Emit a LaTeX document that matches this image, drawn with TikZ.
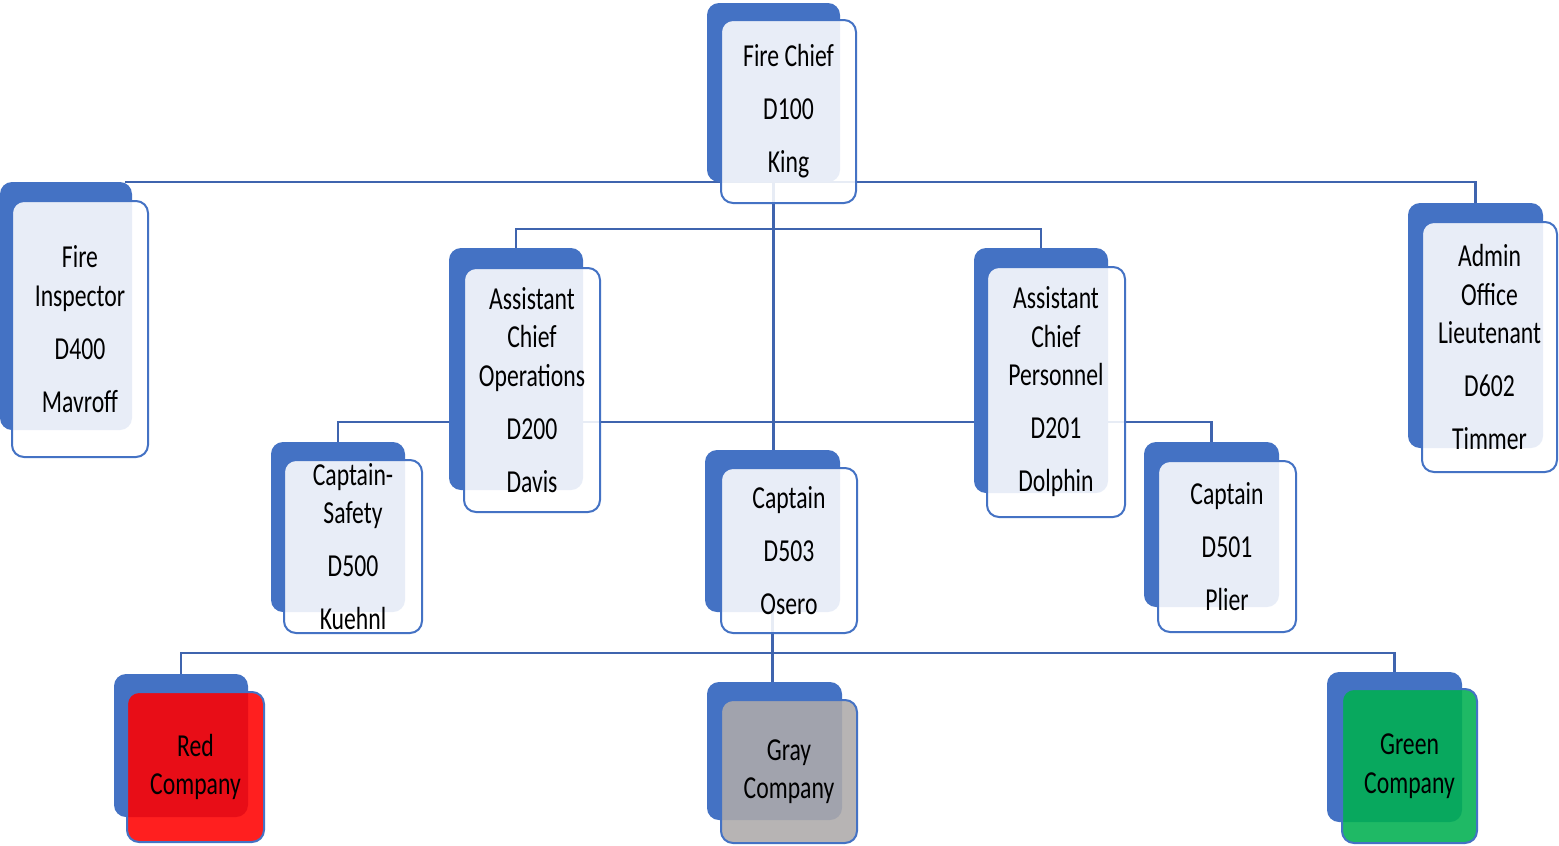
\documentclass[tikz,border=0pt]{standalone}
\usepackage{fontspec}
\newfontfamily\cfont[FakeStretch=0.74]{Carlito}
\usetikzlibrary{backgrounds}
\definecolor{accblue}{HTML}{4472C4}
\definecolor{connblue}{HTML}{3F64AE}
\definecolor{redfill}{HTML}{FF0000}
\definecolor{greenfill}{HTML}{00B050}
\definecolor{grayfill}{HTML}{AEAAAA}
\tikzset{
  backbox/.style={rectangle, rounded corners=12pt, fill=accblue, draw=none, inner sep=0pt, outer sep=0pt},
  frontbox/.style={rectangle, rounded corners=12pt, draw=accblue, line width=2pt, fill opacity=0.88, text opacity=1,
     inner sep=0pt, outer sep=0pt, align=center, text=black,
     font=\cfont\fontsize{32}{38.5}\selectfont},
  conn/.style={draw=connblue, line width=2.5pt},
}
\newcommand{\backbox}[5]{%
  \pgfmathsetmacro\bw{#4-#2}\pgfmathsetmacro\bh{#5-#3}%
  \node[backbox, minimum width=\bw pt, minimum height=\bh pt] (#1) at ({(#2+#4)/2},{(#3+#5)/2}) {};}
\newcommand{\frontbox}[7]{%
  \pgfmathsetmacro\bw{#4-#2}\pgfmathsetmacro\bh{#5-#3}%
  \node[frontbox, fill=#6, minimum width=\bw pt, minimum height=\bh pt] (#1) at ({(#2+#4)/2},{(#3+#5)/2}) {#7};}
\def\psep{\\[14.5pt]}
\begin{document}
\begin{tikzpicture}[x=1pt,y=-1pt]
\useasboundingbox (0,0) rectangle (1559,846);
% back boxes
\backbox{chiefB}{707}{3}{840}{182}
\backbox{inspB}{0}{182}{132}{430}
\backbox{opsB}{449}{248}{583}{490}
\backbox{persB}{974}{248}{1108}{493}
\backbox{adminB}{1408}{203}{1543}{448}
\backbox{safetyB}{271}{442}{405}{612}
\backbox{oseroB}{705}{450}{840}{612}
\backbox{plierB}{1144}{442}{1279}{607}
\backbox{redB}{114}{674}{248}{817}
\backbox{grayB}{707}{682}{842}{820}
\backbox{greenB}{1327}{672}{1462}{822}
% front boxes
\frontbox{chief}{721}{20}{856}{203}{white}{Fire Chief\psep D100\psep King}
\frontbox{insp}{12}{201}{148}{457}{white}{Fire\\Inspector\psep D400\psep Mavroff}
\frontbox{ops}{464}{268}{600}{512}{white}{Assistant\\Chief\\Operations\psep D200\psep Davis}
\frontbox{pers}{987}{267}{1125}{517}{white}{Assistant\\Chief\\Personnel\psep D201\psep Dolphin}
\frontbox{admin}{1422}{222}{1557}{472}{white}{Admin\\Office\\Lieutenant\psep D602\psep Timmer}
\frontbox{safety}{284}{460}{422}{633}{white}{Captain-\\Safety\psep D500\psep Kuehnl}
\frontbox{osero}{721}{468}{857}{633}{white}{Captain\psep D503\psep Osero}
\frontbox{plier}{1158}{461}{1296}{632}{white}{Captain\psep D501\psep Plier}
\frontbox{red}{127}{692}{264}{842}{redfill}{Red\\Company}
\frontbox{gray}{721}{700}{857}{843}{grayfill}{Gray\\Company}
\frontbox{green}{1342}{689}{1477}{843}{greenfill}{Green\\Company}
% connectors
\begin{scope}[on background layer]
\fill[white] (0,0) rectangle (1559,846);
\coordinate (j1) at (773.5,229);
\coordinate (j2) at (773.5,422);
\coordinate (j3) at (773.5,653);
\draw[conn] ([xshift=-7pt]inspB.north east) -- (chiefB.south) -| (adminB.north);
\draw[conn] (chiefB.south) -- (chiefB.south |- oseroB.north);
\draw[conn] (opsB.north) |- (j1) -| (persB.north);
\draw[conn] (safetyB.north) |- (j2) -| (plierB.north);
\draw[conn] (oseroB.south) -- (oseroB.south |- grayB.north);
\draw[conn] (redB.north) |- (j3) -| (greenB.north);
\end{scope}
\end{tikzpicture}
\end{document}
